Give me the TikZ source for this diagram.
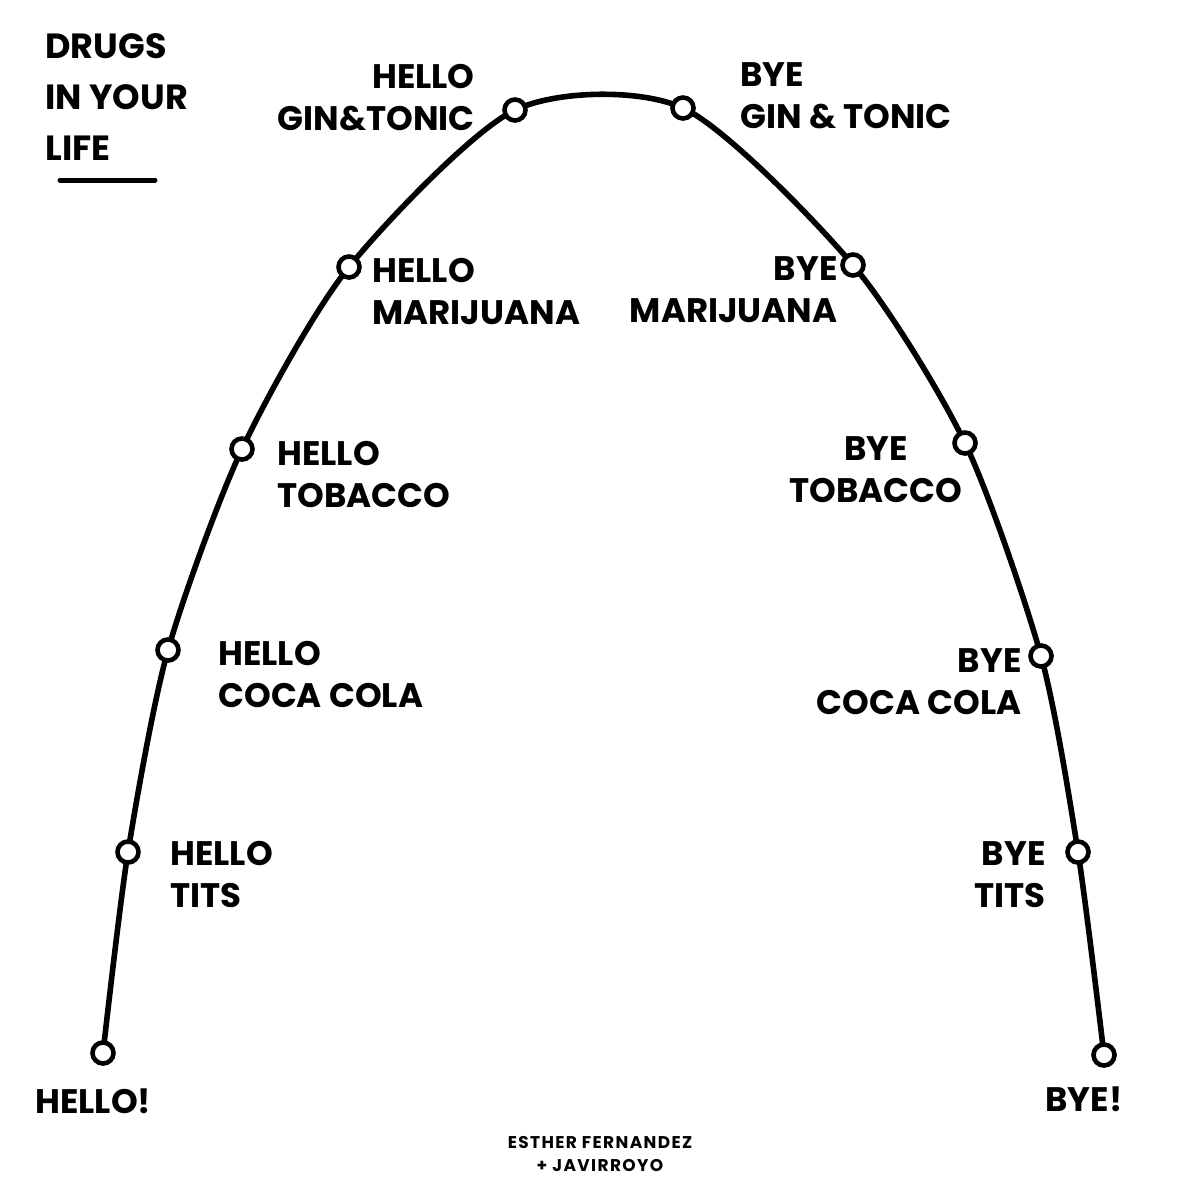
\documentclass[tikz,border=0pt]{standalone}
\usepackage{fontspec}
\setmainfont{Poppins}
\usetikzlibrary{backgrounds}
\begin{document}
\begin{tikzpicture}[x=0.5pt,y=-0.5pt,
  dot/.style={circle,draw=black,fill=white,line width=2.3pt,minimum size=10.5pt,inner sep=0pt},
  lbl/.style={inner sep=0pt,font=\fontsize{17}{21}\selectfont\bfseries},
  credit/.style={inner sep=0pt,align=center,font=\fontsize{8.5}{11.5}\selectfont\bfseries\addfontfeatures{LetterSpace=8}}]
\useasboundingbox (0,0) rectangle (1200,1200);
% dots
\node[dot] (d1) at (103,1053) {};
\node[dot] (d2) at (128,852) {};
\node[dot] (d3) at (168,650) {};
\node[dot] (d4) at (242,449) {};
\node[dot] (d5) at (349,267) {};
\node[dot] (d6) at (515,110) {};
\node[dot] (d7) at (683,108) {};
\node[dot] (d8) at (853,265) {};
\node[dot] (d9) at (965,443) {};
\node[dot] (d10) at (1041,656) {};
\node[dot] (d11) at (1078,852) {};
\node[dot] (d12) at (1104,1055) {};
\begin{pgfonlayer}{background}
\fill[white] (0,0) rectangle (1200,1200);
\draw[line width=2.8pt,line cap=round,line join=round]
  plot[smooth,tension=0.45] coordinates {(d1) (d2) (d3) (d4) (d5) (d6) (d7) (d8) (d9) (d10) (d11) (d12)};
\end{pgfonlayer}
% labels
\node[lbl,align=right,anchor=north east] (hg) at (475,64) {HELLO\\GIN\&TONIC};
\node[lbl,align=left,anchor=north west] (bg) at (740,62) {BYE\\GIN \& TONIC};
\node[lbl,align=left,anchor=north west] (hm) at (372,258) {HELLO\\MARIJUANA};
\node[lbl,align=right,anchor=north east] (bm) at (838,256) {BYE\\MARIJUANA};
\node[lbl,align=left,anchor=north west] (ht) at (277,441) {HELLO\\TOBACCO};
\node[lbl,align=center,anchor=north] (bt) at (876,436) {BYE\\TOBACCO};
\node[lbl,align=left,anchor=north west] (hc) at (218,641) {HELLO\\COCA COLA};
\node[lbl,align=right,anchor=north east] (bc) at (1022,648) {BYE\\COCA COLA};
\node[lbl,align=left,anchor=north west] (hti) at (170,841) {HELLO\\TITS};
\node[lbl,align=right,anchor=north east] (bti) at (1046,841) {BYE\\TITS};
\node[lbl,anchor=north west] (hello) at (35,1088) {HELLO!};
\node[lbl,anchor=north west] (bye) at (1045,1086) {BYE!};
% title
\node[lbl,align=left,anchor=north west,font=\fontsize{17.5}{25.5}\selectfont\bfseries] (title) at (45,33) {DRUGS\\IN YOUR\\LIFE};
\coordinate (u1) at (60,180);
\coordinate (u2) at (155,180);
\draw[line width=2.5pt,line cap=round] (u1) -- (u2);
% credit
\node[credit] (cr) at (600,1154) {ESTHER FERNANDEZ\\+ JAVIRROYO};
\end{tikzpicture}
\end{document}
